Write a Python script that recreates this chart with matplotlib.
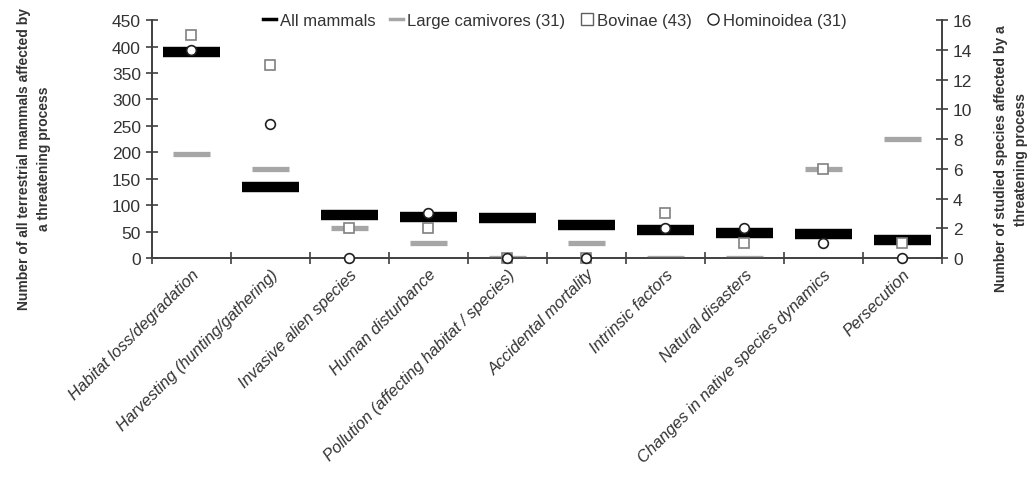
import numpy as np
import matplotlib
matplotlib.use("Agg")
import matplotlib.pyplot as plt
from matplotlib.lines import Line2D

plt.rcParams['font.family'] = ['Liberation Sans', 'DejaVu Sans']

# data
threats = ["Habitat loss/degradation", "Harvesting (hunting/gathering)",
           "Invasive alien species", "Human disturbance",
           "Pollution (affecting habitat / species)", "Accidental mortality",
           "Intrinsic factors", "Natural disasters",
           "Changes in native species dynamics", "Persecution"]
all_mammals = [389, 134, 82, 78, 75, 62, 53, 47, 45, 34]
large_carnivores = [7, 6, 2, 1, 0, 1, 0, 0, 6, 8]
bovinae = [15, 13, 2, 2, 0, 0, 3, 1, 6, 1]
hominoidea = [14, 9, 0, 3, 0, 0, 2, 2, 1, 0]

left_ticks = list(range(0, 451, 50))
right_ticks = list(range(0, 17, 2))

txt = '#333333'
grey = '#a6a6a6'
axc = '#404040'

fig = plt.figure(figsize=(10.34, 5.02), dpi=100)
ax = fig.add_axes([0.147, 0.484, 0.764, 0.474])
ax2 = ax.twinx()

x = np.arange(len(threats))

# all mammals: thick black dashes on left axis
ax.hlines(all_mammals, x - 0.36, x + 0.36, colors='black', linewidth=7.5, zorder=3)

# studied groups on right axis
ax2.hlines(large_carnivores, x - 0.24, x + 0.24, colors=grey, linewidth=3.8, zorder=2)
ax2.plot(x, bovinae, linestyle='none', marker='s', markersize=7,
         markerfacecolor='white', markeredgecolor='#808080', markeredgewidth=1.2,
         zorder=4, clip_on=False)
ax2.plot(x, hominoidea, linestyle='none', marker='o', markersize=7,
         markerfacecolor='white', markeredgecolor='#202020', markeredgewidth=1.2,
         zorder=5, clip_on=False)

ax.set_xlim(-0.5, len(threats) - 0.5)
ax.set_ylim(0, 450)
ax2.set_ylim(0, 16)
ax.set_yticks(left_ticks)
ax2.set_yticks(right_ticks)

for a in (ax, ax2):
    a.spines['top'].set_visible(False)
    for s in a.spines.values():
        s.set_color(axc)
        s.set_linewidth(1.2)
    a.tick_params(axis='y', direction='inout', length=9, width=1.2, color=axc,
                  labelsize=12.5, labelcolor=txt)

ax.set_xticks(x)
ax.set_xticklabels(threats, rotation=45, ha='right', va='top',
                   rotation_mode='anchor', fontstyle='italic', fontsize=11.8, color=txt)
ax.tick_params(axis='x', which='major', length=0, pad=6)
ax.set_xticks(np.arange(-0.5, len(threats)), minor=True)
ax.tick_params(axis='x', which='minor', direction='inout', length=9, width=1.2, color=axc)
ax2.tick_params(axis='x', length=0)

ax.set_ylabel("Number of all terrestrial mammals affected by\na threatening process",
              fontsize=10, fontweight='bold', color=txt, linespacing=1.5)
ax.yaxis.set_label_coords(-0.128, 0.42)
ax2.set_ylabel("Number of studied species affected by a\nthreatening process",
               fontsize=10, fontweight='bold', color=txt, rotation=90, linespacing=1.5)
ax2.yaxis.set_label_coords(1.066, 0.42)

handles = [
    Line2D([], [], color='black', linewidth=2.5),
    Line2D([], [], color=grey, linewidth=2.5),
    Line2D([], [], linestyle='none', marker='s', markersize=8,
           markerfacecolor='white', markeredgecolor='#606060'),
    Line2D([], [], linestyle='none', marker='o', markersize=8,
           markerfacecolor='white', markeredgecolor='#202020'),
]
labels = ["All mammals", "Large camivores (31)", "Bovinae (43)", "Hominoidea (31)"]
leg = ax2.legend(handles, labels, loc='center', bbox_to_anchor=(0.51, 1.0), ncol=4,
                 frameon=False, fontsize=12, handlelength=0.8, handletextpad=0.2,
                 columnspacing=0.9, borderaxespad=0)
for t in leg.get_texts():
    t.set_color(txt)

fig.savefig("out.png", dpi=100)
